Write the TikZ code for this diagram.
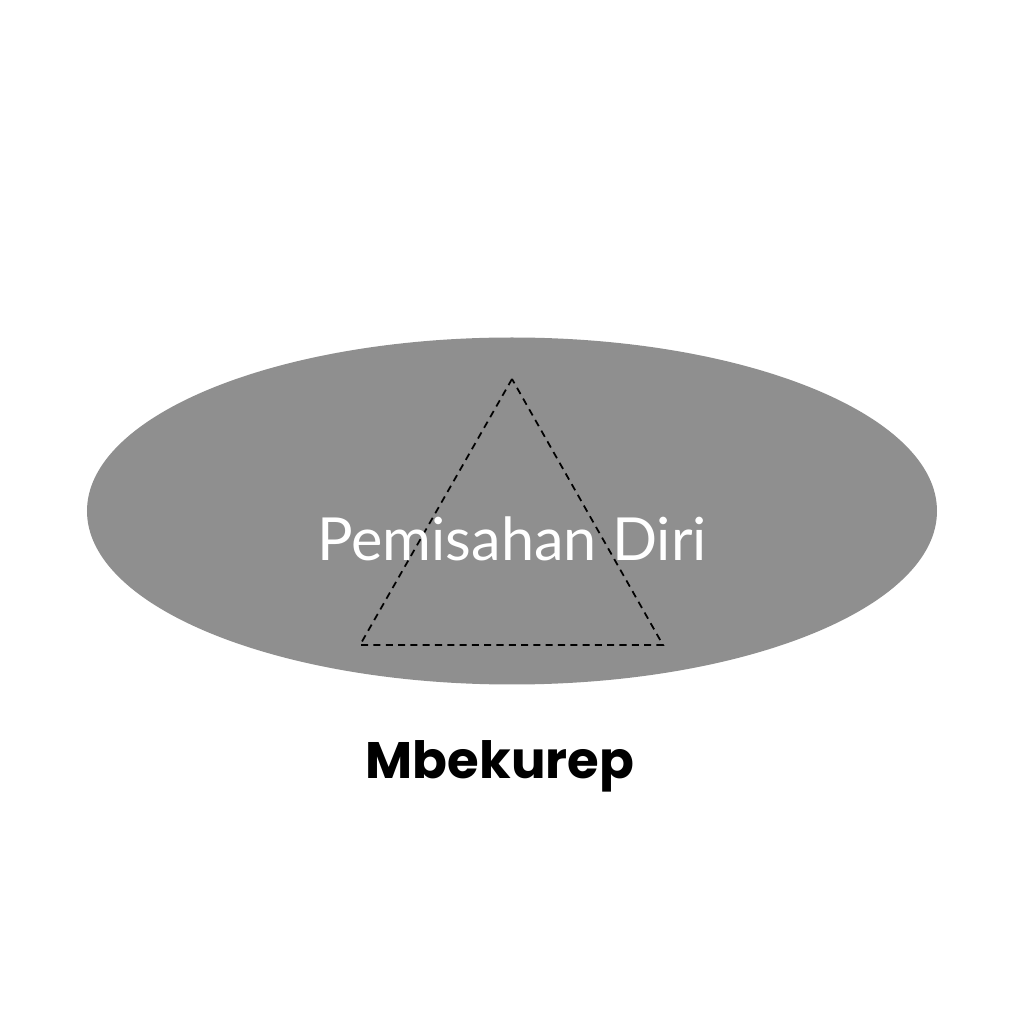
\documentclass[tikz,border=0pt]{standalone}
\usepackage{fontspec}
\setmainfont{Lato}
\newfontfamily\handfont{Poppins}
\usetikzlibrary{shapes.geometric}
\definecolor{ellgray}{HTML}{8F8F8F}
\tikzset{
  bigoval/.style={ellipse, fill=ellgray, draw=none, minimum width=8.5cm, minimum height=3.47cm, inner sep=0pt},
  tri/.style={draw=black, line width=0.5pt, dash pattern=on 2pt off 1.5pt},
  lbl/.style={text=white, font=\fontsize{16.9}{19}\selectfont, inner sep=0pt},
  sublbl/.style={text=black, font=\handfont\bfseries\fontsize{14.6}{16}\selectfont, inner sep=0pt}
}
\begin{document}
\begin{tikzpicture}
\useasboundingbox (0,0) rectangle (10.24,10.24);
\fill[white] (0,0) rectangle (10.24,10.24);
\node[bigoval] (oval) at (5.12,5.13) {};
\coordinate (ta) at (5.12,6.45);
\coordinate (tb) at (3.60,3.79);
\coordinate (tc) at (6.63,3.79);
\draw[tri] (ta) -- (tb) -- (tc) -- cycle;
\node[lbl] (title) at (5.12,4.85) {Pemisahan Diri};
\node[sublbl] (sub) at (5.00,2.58) {Mbekurep};
\end{tikzpicture}
\end{document}
